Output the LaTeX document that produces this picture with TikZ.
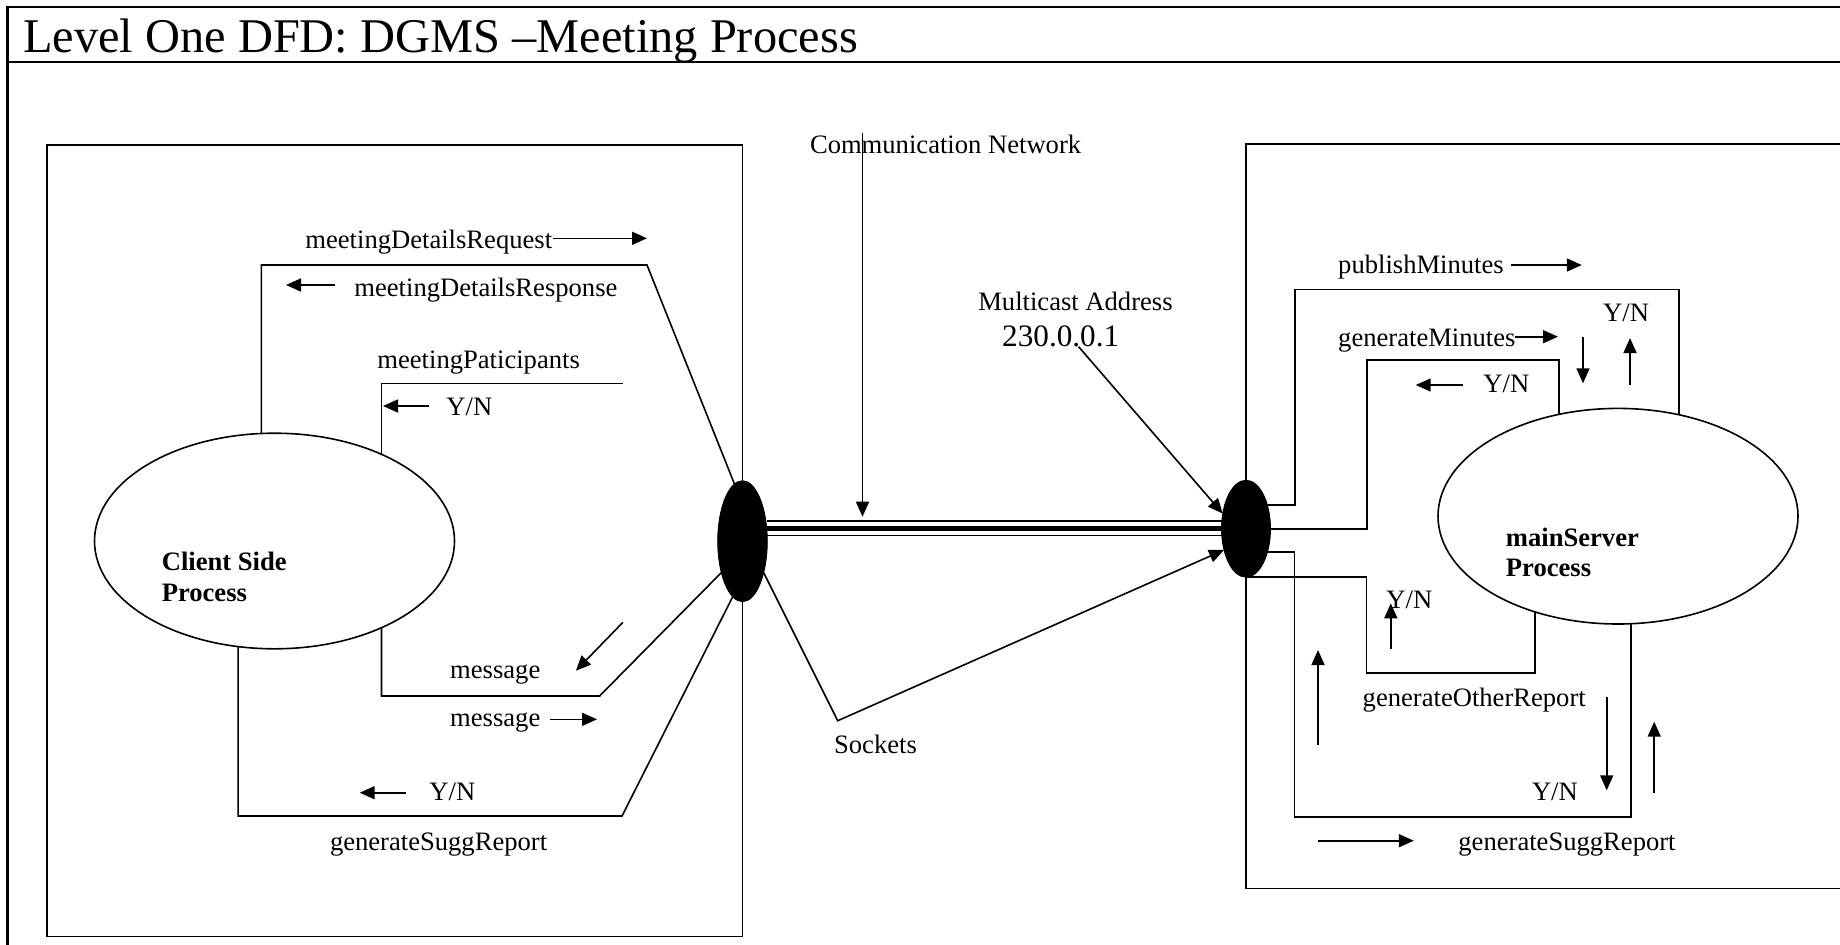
\documentclass[tikz,border=0pt]{standalone}
\usepackage{fontspec}
\setmainfont{Liberation Serif}
\usetikzlibrary{arrows.meta,shapes.geometric}
\begin{document}
\begin{tikzpicture}[x=0.5pt,y=-0.5pt,
  frame/.style={line width=1.1pt},
  boxline/.style={line width=0.8pt},
  flowline/.style={line width=0.8pt},
  arr/.style={line width=0.8pt,-{Triangle[length=7.5pt,width=6.5pt]}},
  lbl/.style={anchor=base west,inner sep=0pt,font=\fontsize{13.3}{16}\selectfont},
  boldlbl/.style={anchor=base west,inner sep=0pt,font=\fontsize{13.3}{16}\selectfont\bfseries},
  proc/.style={ellipse,draw,line width=0.8pt,inner sep=0pt,outer sep=0pt,minimum width=180pt,minimum height=107.8pt},
  port/.style={ellipse,fill=black,draw=black,inner sep=0pt,outer sep=0pt}
]
\useasboundingbox (0,0) rectangle (1840,944);

% page frame and heading
\draw[frame] (1850,6.7) -- (7.5,6.7) -- (7.5,950);
\draw[frame] (7.5,62) -- (1850,62);
\node[anchor=base west,inner sep=0pt,font=\fontsize{24.2}{29}\selectfont] (title) at (22.7,52) {Level One DFD: DGMS –Meeting Process};

% client and server boundaries
\draw[boxline] (47,145) rectangle (742.6,936.5);
\draw[boxline] (1850,144) -- (1246,144) -- (1246,888.3) -- (1850,888.3);

% processes and socket ports
\node[proc] (cl) at (274.5,541) {};
\node[proc] (srv) at (1618,516.2) {};
\node[port,minimum width=24.8pt,minimum height=60.5pt] (lo) at (742.5,541.2) {};
\node[port,minimum width=24.5pt,minimum height=48.5pt] (ro) at (1246,528.7) {};

\node[boldlbl] (clA) at (161.4,570.7) {Client Side};
\node[boldlbl] (clB) at (161.4,601) {Process};
\node[boldlbl] (srvA) at (1505.5,546.7) {mainServer};
\node[boldlbl] (srvB) at (1505.5,576.7) {Process};

% network link between the ports
\coordinate (ya) at (0,521.2);
\coordinate (yb) at (0,528.3);
\coordinate (yc) at (0,535.4);
\draw[line width=0.8pt] (lo.east |- ya) -- (ro.west |- ya);
\draw[line width=2.4pt] (lo.east |- yb) -- (ro.west |- yb);
\draw[line width=0.8pt] (lo.east |- yc) -- (ro.west |- yc);

\node[lbl] (comm) at (809.6,153.3) {Communication Network};
\coordinate (commtop) at (862.5,132.7);
\coordinate (commtip) at (862.5,516.7);
\draw[arr] (commtop) -- (commtip);

\node[lbl] (mcast) at (977.9,310) {Multicast Address};
\node[anchor=base west,inner sep=0pt,font=\fontsize{15.6}{19}\selectfont] (ip) at (1001.8,346.7) {230.0.0.1};
\coordinate (ipdot) at (1078.6,346.7);
\draw[arr] (ipdot) -- (ro.147);

\node[lbl] (sock) at (833.7,753.3) {Sockets};
\coordinate (sockv) at (837.7,720.7);
\draw[arr] (lo.-56) -- (sockv) -- (ro.-136);

% client side flows
\draw[flowline] (cl.97) |- (647,265) -- (lo.98);
\draw[flowline] (cl.39) |- (623,383.3);
\draw[flowline] (cl.-39) |- (599.6,696) -- (lo.-124);
\draw[flowline] (cl.-109) |- (622,816) -- (lo.-100);

\node[lbl] (mdreq) at (305,248.3) {meetingDetailsRequest};
\draw[arr] (552.6,238.3) -- (647,238.3);
\node[lbl] (mdres) at (354,296.7) {meetingDetailsResponse};
\draw[arr] (334.5,285) -- (286,285);
\node[lbl] (mpart) at (377,368) {meetingPaticipants};
\node[lbl] (ynA) at (446,415) {Y/N};
\draw[arr] (429,406) -- (383,406);
\draw[arr] (622.9,622.3) -- (575.9,670.7);
\node[lbl] (msgA) at (449.8,678.3) {message};
\node[lbl] (msgB) at (449.8,726) {message};
\draw[arr] (550,719.3) -- (597,719.3);
\node[lbl] (ynB) at (429,800.7) {Y/N};
\draw[arr] (406,792.7) -- (359.7,792.7);
\node[lbl] (sugA) at (329.6,850) {generateSuggReport};

% server side flows
\draw[flowline] (ro.48) -| (1295,289.3) -| (srv.59);
\draw[flowline] (ro.east) -| (1367,360) -| (srv.120);
\draw[flowline] (ro.-47) -| (1294.3,816.7) -| (srv.-83);
\draw[flowline] (ro.south) -| (1366.3,672.7) -| (srv.-131);

\node[lbl] (pub) at (1337.8,273.3) {publishMinutes};
\draw[arr] (1510.6,265) -- (1581.8,265);
\node[lbl] (ynC) at (1602.8,321.7) {Y/N};
\node[lbl] (genmin) at (1337.8,346.7) {generateMinutes};
\draw[arr] (1514.6,336.7) -- (1558,336.7);
\draw[arr] (1583,336.7) -- (1583,383.3);
\draw[arr] (1630,385) -- (1630,338);
\node[lbl] (ynD) at (1483,392.7) {Y/N};
\draw[arr] (1463,385) -- (1415.7,385);

\node[lbl] (ynE) at (1386,608.3) {Y/N};
\draw[arr] (1390.8,649.3) -- (1390.8,603.3);
\draw[arr] (1318,745) -- (1318,650);
\node[lbl] (other) at (1362.3,706.7) {generateOtherReport};
\draw[arr] (1606.7,696.7) -- (1606.7,790.3);
\draw[arr] (1654.2,793.3) -- (1654.2,721.7);
\node[lbl] (ynF) at (1531.6,800) {Y/N};
\draw[arr] (1318,840.7) -- (1413.8,840.7);
\node[lbl] (sugB) at (1458,850.7) {generateSuggReport};
\end{tikzpicture}
\end{document}
